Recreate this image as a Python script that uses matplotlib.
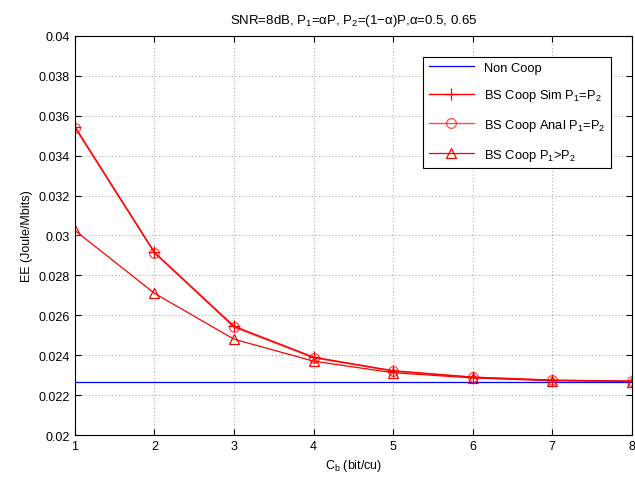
import matplotlib.pyplot as plt

plt.rcParams['font.family'] = ['Liberation Sans', 'DejaVu Sans']
plt.rcParams['mathtext.fontset'] = 'custom'
plt.rcParams['mathtext.rm'] = 'Liberation Sans'
plt.rcParams['mathtext.it'] = 'Liberation Sans'
plt.rcParams['mathtext.default'] = 'rm'

cb = [1, 2, 3, 4, 5, 6, 7, 8]
ee_noncoop = [0.02265] * len(cb)
ee_sim_eq = [0.03545, 0.02915, 0.02545, 0.02390, 0.02322, 0.02290, 0.02275, 0.02270]
ee_anal_eq = [0.03540, 0.02912, 0.02540, 0.02387, 0.02320, 0.02289, 0.02274, 0.02269]
ee_coop_gt = [0.03025, 0.02710, 0.02480, 0.02370, 0.02312, 0.02286, 0.02272, 0.02268]

fig = plt.figure(figsize=(6.35, 4.85), dpi=100)
ax = fig.add_axes([0.118, 0.101, 0.877, 0.823])

ax.plot(cb, ee_noncoop, color='blue', lw=0.9, label='Non Coop')
ax.plot(cb, ee_sim_eq, color='red', lw=1.0, marker='+', ms=8, mew=0.9,
        label='BS Coop Sim P$_1$=P$_2$')
ax.plot(cb, ee_anal_eq, color='red', lw=1.0, marker='o', ms=7, mfc='none',
        mew=0.9, alpha=0.7, label='BS Coop Anal P$_1$=P$_2$')
ax.plot(cb, ee_coop_gt, color='red', lw=0.9, marker='^', ms=7, mfc='none',
        mew=0.9, label='BS Coop P$_1$>P$_2$')

ax.set_xlim(1, 8)
ax.set_ylim(0.02, 0.04)
ax.set_xticks(cb)
ax.set_yticks([0.02 + 0.002 * i for i in range(11)])
ax.set_yticklabels(['0.02', '0.022', '0.024', '0.026', '0.028', '0.03',
                    '0.032', '0.034', '0.036', '0.038', '0.04'])
ax.tick_params(direction='in', top=True, right=True, labelsize=9, length=4)
ax.grid(True, linestyle=(0, (1, 3)), color='gray', lw=0.6)

ax.set_xlabel('C$_b$ (bit/cu)', fontsize=9)
ax.set_ylabel('EE (Joule/Mbits)', fontsize=9)
ax.set_title('SNR=8dB, P$_1$=αP, P$_2$=(1−α)P,α=0.5, 0.65',
             fontsize=9.5, pad=9)

leg = ax.legend(loc='upper right', bbox_to_anchor=(0.962, 0.948), fontsize=9.3,
                fancybox=False, edgecolor='black', framealpha=1,
                labelspacing=1.05, handlelength=3.5, borderaxespad=0)
leg.get_frame().set_linewidth(0.8)

fig.savefig('out.png', dpi=100)
